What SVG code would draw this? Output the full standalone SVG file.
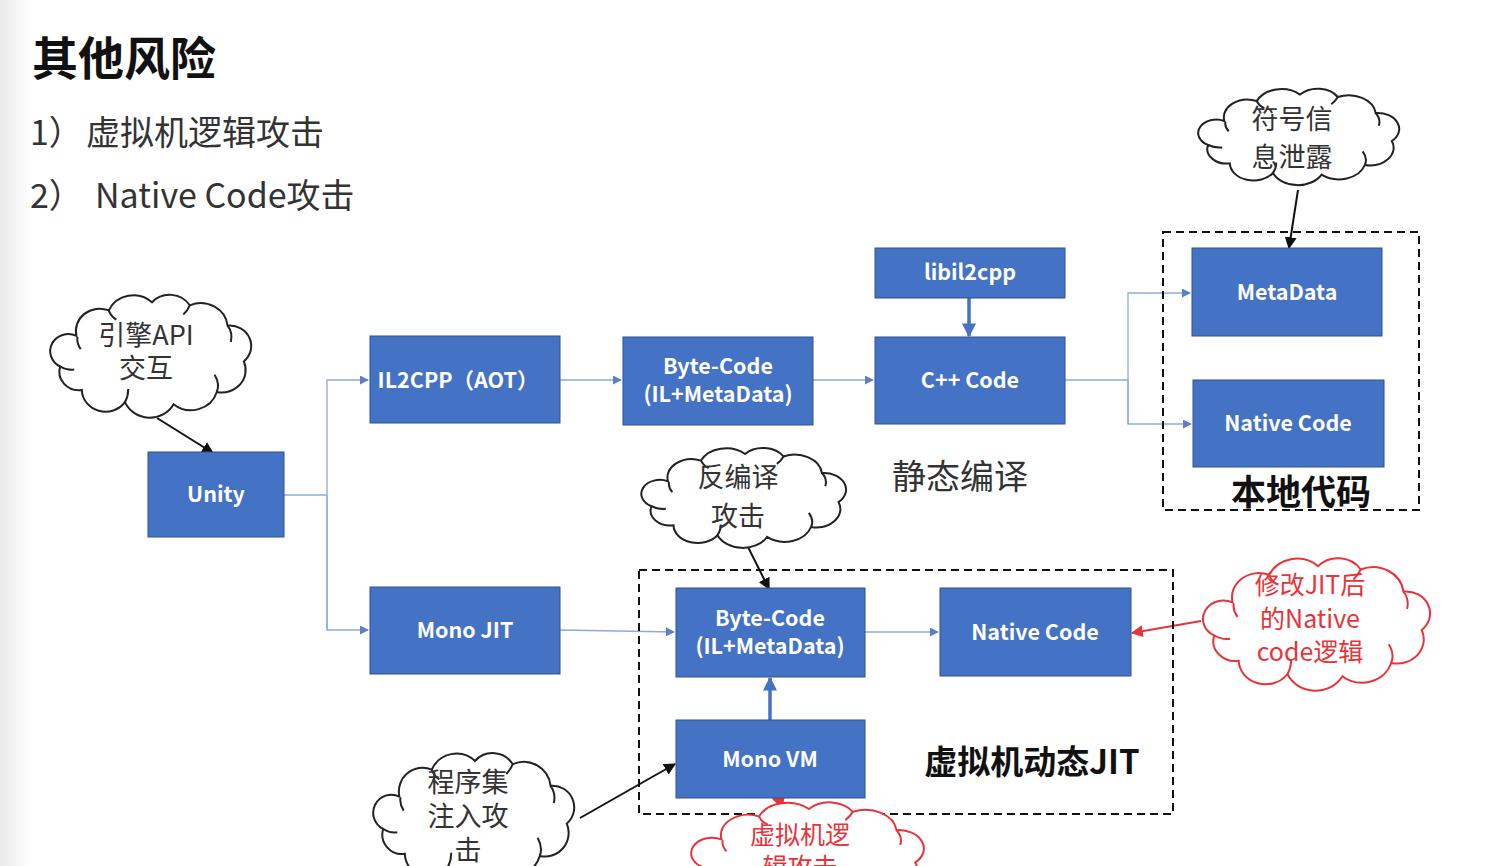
<svg xmlns="http://www.w3.org/2000/svg" xmlns:xlink="http://www.w3.org/1999/xlink" width="1496" height="866" viewBox="0 0 1496 866">
<style>
.box{fill:#4472c4;stroke:#2f528f;stroke-width:1}
.bt{fill:#ffffff;font-family:"Noto Sans CJK SC","Liberation Sans",sans-serif;font-size:21.5px;font-weight:bold;text-anchor:middle}
.ln{fill:none;stroke:#8eaadb;stroke-width:1.3}
.thick{fill:none;stroke:#4472c4;stroke-width:3.5}
.blk{fill:none;stroke:#111;stroke-width:2}
.red{fill:none;stroke:#e8333a;stroke-width:2}
.cloud{fill:#fff;stroke-width:2}
.ct{font-family:"Noto Sans CJK SC","Liberation Sans",sans-serif;font-size:27px;text-anchor:middle;fill:#333}
.ctr{font-family:"Noto Sans CJK SC","Liberation Sans",sans-serif;font-size:25px;text-anchor:middle;fill:#e8333a}
.dash{fill:none;stroke:#111;stroke-width:2;stroke-dasharray:8 5}
.lbl{font-family:"Noto Sans CJK SC","Liberation Sans",sans-serif;fill:#111}
</style>
<defs>
<linearGradient id="edge" x1="0" y1="0" x2="1" y2="0">
<stop offset="0" stop-color="#e9e9e9"/>
<stop offset="1" stop-color="#ffffff"/>
</linearGradient>
<marker id="ab" viewBox="0 0 10 10" refX="9" refY="5" markerWidth="9" markerHeight="9" markerUnits="userSpaceOnUse" orient="auto"><path d="M0,0 L10,5 L0,10 z" fill="#5b7fc8"/></marker>
<marker id="abt" viewBox="0 0 10 10" refX="9" refY="5" markerWidth="4" markerHeight="4" orient="auto"><path d="M0,0 L10,5 L0,10 z" fill="#4472c4"/></marker>
<marker id="ak" viewBox="0 0 10 10" refX="9" refY="5" markerWidth="6" markerHeight="6" orient="auto"><path d="M0,0 L10,5 L0,10 z" fill="#111"/></marker>
<marker id="ar" viewBox="0 0 10 10" refX="9" refY="5" markerWidth="6" markerHeight="6" orient="auto"><path d="M0,0 L10,5 L0,10 z" fill="#e8333a"/></marker>
<g id="cloudshape">
<path d="M30 45 A22 22 0 0 1 60 20 A25 25 0 0 1 100 12 A22 22 0 0 1 135 15 A25 25 0 0 1 170 35 A20 20 0 0 1 185 70 A22 22 0 0 1 160 100 A25 25 0 0 1 120 112 A25 25 0 0 1 75 110 A22 22 0 0 1 35 98 A18 18 0 0 1 15 75 A16 16 0 0 1 30 45 Z" vector-effect="non-scaling-stroke"/>
<path d="M31 46 Q30 52 34 58 M15 75 Q21 79 28 78 M75 110 Q78 104 78 97 M160 100 Q163 92 158 83 M170 35 Q175 42 173 51 M60 20 Q62 26 67 29 M135 15 Q133 20 129 24" fill="none" vector-effect="non-scaling-stroke"/>
</g>
</defs>
<rect x="0" y="0" width="1496" height="866" fill="#ffffff"/>
<rect x="0" y="0" width="30" height="866" fill="url(#edge)"/>

<g id="title">
<text class="lbl" x="32" y="75" font-size="46" font-weight="bold">其他风险</text>
<text class="lbl" x="30" y="145" font-size="34" style="fill:#333"><tspan>1）</tspan><tspan x="86">虚拟机逻辑攻击</tspan></text>
<text class="lbl" x="30" y="208" font-size="34" style="fill:#333"><tspan>2）</tspan><tspan x="95">Native Code攻击</tspan></text>
</g>

<g id="connectors">
<polyline class="ln" points="284,495 327,495"/>
<polyline class="ln" points="327,630 327,380 368,380" marker-end="url(#ab)"/>
<polyline class="ln" points="327,495 327,630 368,630" marker-end="url(#ab)"/>
<line class="ln" x1="560" y1="380" x2="621" y2="380" marker-end="url(#ab)"/>
<line class="ln" x1="813" y1="380" x2="873" y2="380" marker-end="url(#ab)"/>
<line class="thick" x1="969" y1="298" x2="969" y2="336" marker-end="url(#abt)"/>
<polyline class="ln" points="1065,380 1128,380"/>
<polyline class="ln" points="1128,424 1128,293 1190,293" marker-end="url(#ab)"/>
<polyline class="ln" points="1128,380 1128,424 1191,424" marker-end="url(#ab)"/>
<line class="ln" x1="560" y1="630" x2="674" y2="632" marker-end="url(#ab)"/>
<line class="ln" x1="865" y1="632" x2="938" y2="632" marker-end="url(#ab)"/>
<line class="thick" x1="770" y1="720" x2="770" y2="678" marker-end="url(#abt)"/>
<line class="blk" x1="157" y1="418" x2="213" y2="453" marker-end="url(#ak)"/>
<line class="blk" x1="1298" y1="190" x2="1289" y2="248" marker-end="url(#ak)"/>
<line class="blk" x1="747" y1="545" x2="769" y2="589" marker-end="url(#ak)"/>
<line class="blk" x1="580" y1="818" x2="675" y2="764" marker-end="url(#ak)"/>
<line class="red" x1="1201" y1="621" x2="1132" y2="633" marker-end="url(#ar)"/>
<line class="red" x1="810" y1="812" x2="773" y2="799" marker-end="url(#ar)"/>
</g>

<g id="group-native">
<rect class="dash" x="1163" y="232" width="256" height="278"/>
<text class="lbl" x="1301" y="505" font-size="35" font-weight="bold" text-anchor="middle">本地代码</text>
</g>
<g id="group-jit">
<rect class="dash" x="639" y="570" width="534" height="244"/>
<text class="lbl" x="1032" y="774" font-size="33" font-weight="bold" text-anchor="middle">虚拟机动态JIT</text>
</g>
<g id="label-static">
<text class="lbl" x="960" y="489" font-size="34" text-anchor="middle" style="fill:#333">静态编译</text>
</g>

<g id="unity"><rect class="box" x="148" y="452" width="136" height="85"/><text class="bt" x="216" y="502">Unity</text></g>
<g id="il2cpp"><rect class="box" x="370" y="336" width="190" height="87"/><text class="bt" x="458" y="388">IL2CPP（AOT）</text></g>
<g id="bytecode1"><rect class="box" x="623" y="337" width="190" height="88"/><text class="bt" x="718" y="374">Byte-Code</text><text class="bt" x="718" y="402">(IL+MetaData)</text></g>
<g id="libil2cpp"><rect class="box" x="875" y="248" width="190" height="50"/><text class="bt" x="970" y="280">libil2cpp</text></g>
<g id="cppcode"><rect class="box" x="875" y="337" width="190" height="87"/><text class="bt" x="970" y="388">C++ Code</text></g>
<g id="metadata"><rect class="box" x="1192" y="248" width="190" height="88"/><text class="bt" x="1287" y="300">MetaData</text></g>
<g id="native1"><rect class="box" x="1193" y="380" width="191" height="87"/><text class="bt" x="1288" y="431">Native Code</text></g>
<g id="monojit"><rect class="box" x="370" y="587" width="190" height="87"/><text class="bt" x="465" y="638">Mono JIT</text></g>
<g id="bytecode2"><rect class="box" x="676" y="588" width="189" height="89"/><text class="bt" x="770" y="626">Byte-Code</text><text class="bt" x="770" y="654">(IL+MetaData)</text></g>
<g id="native2"><rect class="box" x="940" y="588" width="191" height="88"/><text class="bt" x="1035" y="640">Native Code</text></g>
<g id="monovm"><rect class="box" x="676" y="720" width="189" height="78"/><text class="bt" x="770" y="767">Mono VM</text></g>

<g id="cloud-engine">
<use xlink:href="#cloudshape" class="cloud" stroke="#222" transform="translate(44,290) scale(1.08,1.02)"/>
<text class="ct" x="146" y="345">引擎API</text><text class="ct" x="146" y="378">交互</text>
</g>
<g id="cloud-symbol">
<use xlink:href="#cloudshape" class="cloud" stroke="#222" transform="translate(1192,85) scale(1.08,0.8)"/>
<text class="ct" x="1292" y="129" font-size="31">符号信</text><text class="ct" x="1292" y="167" font-size="31">息泄露</text>
</g>
<g id="cloud-decompile">
<use xlink:href="#cloudshape" class="cloud" stroke="#222" transform="translate(635,444) scale(1.1,0.83)"/>
<text class="ct" x="738" y="487" font-size="31">反编译</text><text class="ct" x="738" y="526" font-size="31">攻击</text>
</g>
<g id="cloud-inject">
<use xlink:href="#cloudshape" class="cloud" stroke="#222" transform="translate(367,748) scale(1.08,1.08)"/>
<text class="ct" x="468" y="792">程序集</text><text class="ct" x="468" y="826">注入攻</text><text class="ct" x="468" y="860">击</text>
</g>
<g id="cloud-modify">
<use xlink:href="#cloudshape" class="cloud" stroke="#e8333a" transform="translate(1196,553) scale(1.22,1.1)"/>
<text class="ctr" x="1310" y="594">修改JIT后</text><text class="ctr" x="1310" y="628">的Native</text><text class="ctr" x="1310" y="661">code逻辑</text>
</g>
<g id="cloud-vmlogic">
<use xlink:href="#cloudshape" class="cloud" stroke="#e8333a" transform="translate(684,798) scale(1.25,0.92)"/>
<text class="ctr" x="800" y="844">虚拟机逻</text><text class="ctr" x="800" y="876">辑攻击</text>
</g>
</svg>
